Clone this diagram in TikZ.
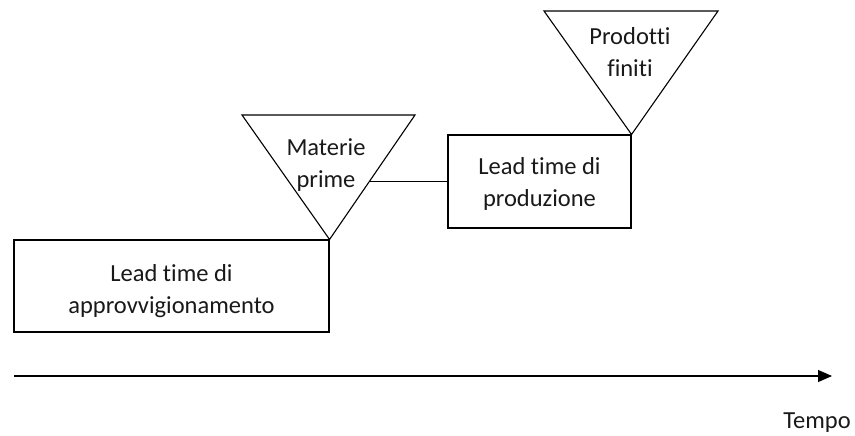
\documentclass[tikz,border=0pt]{standalone}
\usepackage{fontspec}
\setmainfont{Carlito}[Ligatures={NoCommon,NoRequired}]
\usetikzlibrary{arrows.meta}
\begin{document}
\begin{tikzpicture}[x=1pt,y=-1pt]
	% styles
	\tikzstyle{lt} += [draw,line width=1.1pt,rectangle,inner sep=0pt,align=center,text=black!90]
	\tikzstyle{stock} += [draw,line width=1.1pt,line join=miter]
	\tikzstyle{lbl} += [align=center,text=black!90,inner sep=0pt]
	\tikzset{every node/.style={font=\fontsize{24.5}{32}\selectfont}}
	
	% bounding box
	\useasboundingbox (0,0) rectangle (855,436);
	
	% lead times
	\node[lt,minimum width=315pt,minimum height=92pt] (rapp) at (171.5,286)
		{\rule{0pt}{28pt}Lead time di\\approvvigionamento};
	\node[lt,minimum width=183pt,minimum height=93pt] (rprod) at (539.5,181.5)
		{\rule{0pt}{22pt}Lead time di\\produzione};
	
	% stocks
	\coordinate (mpa) at (rapp.north east);
	\path[stock] (242,115) -- (415,115) -- (mpa) -- cycle;
	\node[lbl] (mp) at (326,165) {Materie\\prime};
	\coordinate (pfa) at (rprod.north east);
	\path[stock] (544,11) -- (718,11) -- (pfa) -- cycle;
	\node[lbl] (pf) at (630,52) {Prodotti\\finiti};
	
	% link
	\coordinate (mpedge) at (369.5,181.5);
	\draw[line width=1.1pt] (mpedge) -- (rprod.west);
	
	% time axis
	\coordinate (t0) at (14,376);
	\coordinate (t1) at (832,376);
	\draw[line width=1.1pt,-{Triangle[length=14pt,width=12pt]}] (t0) -- (t1);
	\node[lbl,anchor=base] (tempo) at (817,428) {Tempo};
\end{tikzpicture}
\end{document}
